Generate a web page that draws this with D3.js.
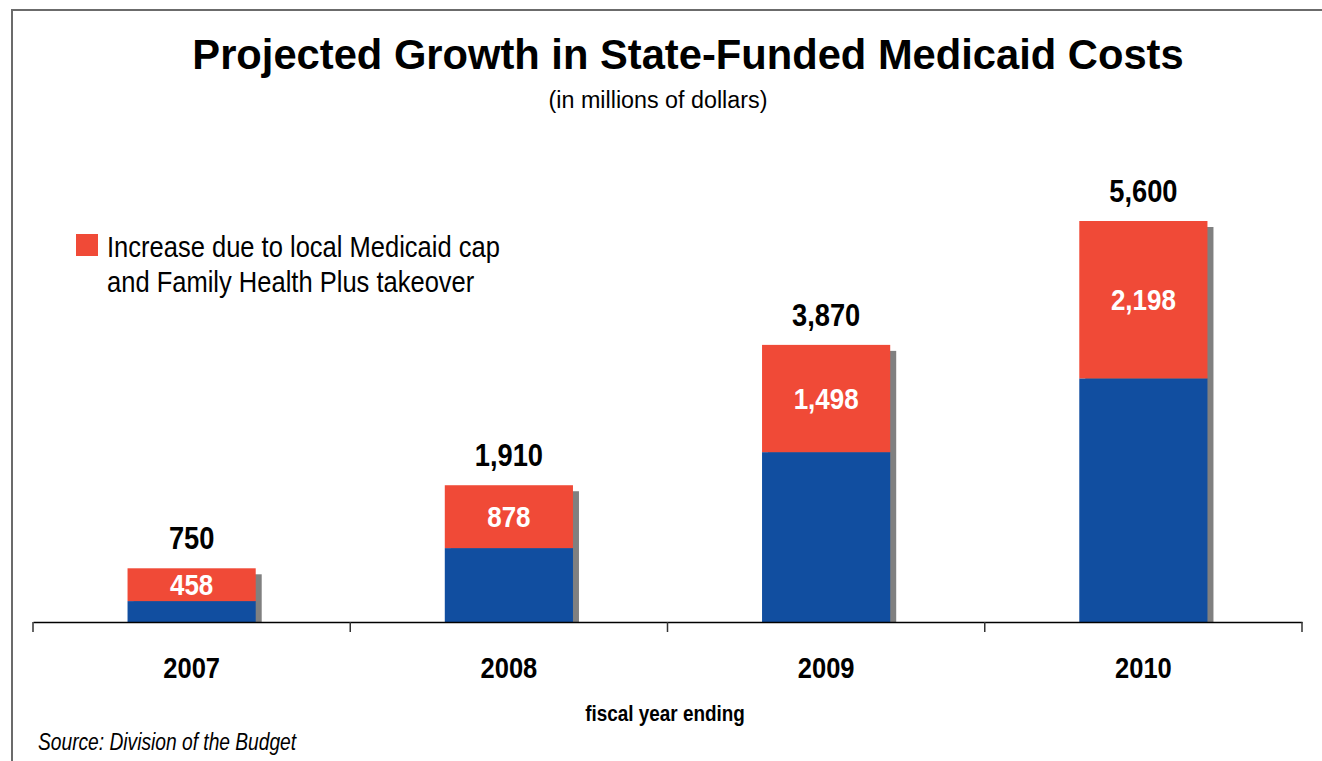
<!DOCTYPE html>
<html>
<head>
<meta charset="utf-8">
<script src="https://cdn.jsdelivr.net/npm/d3@7"></script>
<style>
  body { margin: 0; background: #fff; }
  text { font-family: "Liberation Sans", Arial, sans-serif; }
</style>
</head>
<body>
<svg id="chart" width="1322" height="761"></svg>
<script>
// fiscal years and values (millions of dollars)
const years = ["2007", "2008", "2009", "2010"];
const baseCost = [292, 1032, 2372, 3402];
const increase = [458, 878, 1498, 2198];
const totals = [750, 1910, 3870, 5600];

const titleText = "Projected Growth in State-Funded Medicaid Costs";
const subtitleText = "(in millions of dollars)";
const legendLines = ["Increase due to local Medicaid cap", "and Family Health Plus takeover"];
const xTitle = "fiscal year ending";
const sourceText = "Source: Division of the Budget";

const RED = "#f04a37";
const BLUE = "#114ea0";
const SHADOW = "#808080";

const svg = d3.select("#chart");
const width = +svg.attr("width");
const height = +svg.attr("height");

// no narrow font installed, so squeeze the regular one horizontally
function squeeze(sel, sx, px, py) {
  sel.attr("x", 0).attr("y", 0)
    .attr("transform", (d, i) => {
      const xx = typeof px === "function" ? px(d, i) : px;
      const yy = typeof py === "function" ? py(d, i) : py;
      return `translate(${xx},${yy}) scale(${sx},1)`;
    });
  return sel;
}

// frame (runs off the right and bottom edge like the original)
svg.append("path")
  .attr("d", `M12,${height + 5} L12,10 L${width + 5},10`)
  .attr("fill", "none")
  .attr("stroke", "#6b6b6b")
  .attr("stroke-width", 2);

const baseY = 622;
const x = d3.scaleBand().domain(years).range([33, 1302]).padding(0);
const y = d3.scaleLinear().domain([0, 5600]).range([baseY, 221]);
const barW = x.bandwidth() * 0.404;
const barX = d => x(d) + (x.bandwidth() - barW) / 2;

const rows = years.map((yr, i) => ({
  year: yr, base: baseCost[i], inc: increase[i], total: totals[i]
}));

// titles
svg.append("text")
  .attr("x", 688).attr("y", 69)
  .attr("text-anchor", "middle")
  .attr("font-size", 41.7).attr("font-weight", "bold")
  .text(titleText);

svg.append("text")
  .attr("x", 658).attr("y", 108)
  .attr("text-anchor", "middle")
  .attr("font-size", 23.3)
  .text(subtitleText);

// shadows
svg.append("g").selectAll("rect")
  .data(rows).enter().append("rect")
  .attr("x", d => barX(d.year) + 6)
  .attr("y", d => y(d.total) + 6)
  .attr("width", barW)
  .attr("height", d => baseY - y(d.total) - 6)
  .attr("fill", SHADOW);

// base part
svg.append("g").selectAll("rect")
  .data(rows).enter().append("rect")
  .attr("x", d => barX(d.year))
  .attr("y", d => y(d.base))
  .attr("width", barW)
  .attr("height", d => baseY - y(d.base))
  .attr("fill", BLUE);

// increase part
svg.append("g").selectAll("rect")
  .data(rows).enter().append("rect")
  .attr("x", d => barX(d.year))
  .attr("y", d => y(d.total))
  .attr("width", barW)
  .attr("height", d => y(d.base) - y(d.total))
  .attr("fill", RED);

const fmt = d3.format(",");

// labels inside red segments
svg.append("g").selectAll("text")
  .data(rows).enter().append("text")
  .call(squeeze, 0.88, d => barX(d.year) + barW / 2, d => (y(d.base) + y(d.total)) / 2)
  .attr("dy", "0.36em")
  .attr("text-anchor", "middle")
  .attr("font-size", 29.5).attr("font-weight", "bold")
  .attr("fill", "#fff")
  .text(d => fmt(d.inc));

// totals on top
svg.append("g").selectAll("text")
  .data(rows).enter().append("text")
  .call(squeeze, 0.88, d => barX(d.year) + barW / 2, d => y(d.total) - 19)
  .attr("text-anchor", "middle")
  .attr("font-size", 31).attr("font-weight", "bold")
  .attr("fill", "#000")
  .text(d => fmt(d.total));

// x axis
const xAxis = svg.append("g")
  .attr("transform", `translate(0,${baseY})`)
  .call(d3.axisBottom(x).tickSize(0).tickPadding(0));
xAxis.select(".domain").attr("stroke", "#000").attr("stroke-width", 1.5);
xAxis.selectAll(".tick text")
  .attr("y", 0).attr("dy", 0)
  .attr("transform", "translate(0,56) scale(0.85,1)")
  .attr("font-family", "Liberation Sans, Arial, sans-serif")
  .attr("font-size", 30).attr("font-weight", "bold")
  .attr("fill", "#000");

// boundary ticks between categories
const bounds = years.map(yr => x(yr)).concat([x.range()[1]]);
xAxis.append("g").selectAll("line")
  .data(bounds).enter().append("line")
  .attr("x1", d => d).attr("x2", d => d)
  .attr("y1", 0).attr("y2", 10)
  .attr("stroke", "#333").attr("stroke-width", 1.5);

svg.append("text")
  .call(squeeze, 0.86, 665, 721)
  .attr("text-anchor", "middle")
  .attr("font-size", 22).attr("font-weight", "bold")
  .text(xTitle);

svg.append("text")
  .call(squeeze, 0.8, 38, 750)
  .attr("font-size", 24).attr("font-style", "italic")
  .text(sourceText);

// legend
const legend = svg.append("g");
legend.append("rect")
  .attr("x", 76).attr("y", 234)
  .attr("width", 22).attr("height", 22)
  .attr("fill", RED);
legend.selectAll("text.leg")
  .data(legendLines).enter().append("text")
  .attr("class", "leg")
  .call(squeeze, 0.865, 107, (d, i) => 257 + i * 35)
  .attr("font-size", 29.5)
  .text(d => d);
</script>
</body>
</html>
